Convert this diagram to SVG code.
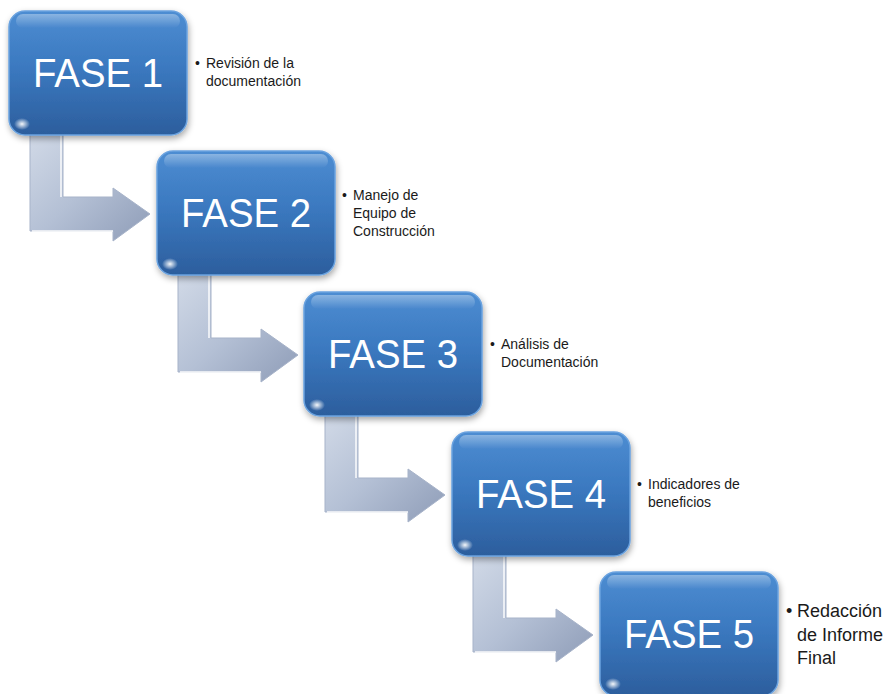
<svg xmlns="http://www.w3.org/2000/svg" width="895" height="694" viewBox="0 0 895 694">
<defs>
  <linearGradient id="boxFill" x1="0" y1="0" x2="0" y2="1">
    <stop offset="0" stop-color="#4d8dd2"/>
    <stop offset="0.45" stop-color="#3b79c0"/>
    <stop offset="1" stop-color="#2c5e9d"/>
  </linearGradient>
  <linearGradient id="gloss" x1="0" y1="0" x2="0" y2="1">
    <stop offset="0" stop-color="#ffffff" stop-opacity="0.35"/>
    <stop offset="1" stop-color="#ffffff" stop-opacity="0"/>
  </linearGradient>
  <linearGradient id="arrowFill" x1="0" y1="0" x2="1" y2="1">
    <stop offset="0" stop-color="#d3dbe8"/>
    <stop offset="0.5" stop-color="#b4c0d5"/>
    <stop offset="1" stop-color="#8e9cb7"/>
  </linearGradient>
  <radialGradient id="glint" cx="0.5" cy="0.5" r="0.5">
    <stop offset="0" stop-color="#ffffff" stop-opacity="0.95"/>
    <stop offset="1" stop-color="#ffffff" stop-opacity="0"/>
  </radialGradient>
  <filter id="shadow" x="-10%" y="-10%" width="125%" height="130%">
    <feDropShadow dx="1" dy="3" stdDeviation="3" flood-color="#000000" flood-opacity="0.35"/>
  </filter>
  <path id="bent" d="M21,-25 H54 V46 H104 V37 L141,63 L104,90 V80 H21 Z"/>
</defs>
<style>
  .box { fill: url(#boxFill); stroke: #6aa2df; stroke-width: 1.5; }
  .gloss { fill: url(#gloss); }
  .label { font-family: "Liberation Sans", Arial, sans-serif; font-size: 41px; fill: #ffffff; text-anchor: middle; }
  .note { font-family: "Liberation Sans", Arial, sans-serif; font-size: 14px; fill: #1a1a1a; }
  .note5 { font-family: "Liberation Sans", Arial, sans-serif; font-size: 18px; fill: #1a1a1a; }
  .arrow { fill: url(#arrowFill); stroke: #a7b3c9; stroke-width: 1; }
  .hl { fill: none; stroke: #ffffff; stroke-opacity: 0.7; stroke-width: 2; }
</style>
<g id="connectors">
  <g transform="translate(9,151)"><use href="#bent" class="arrow"/><path class="hl" d="M23,80 H104"/><path class="hl" d="M52,-20 V46"/></g>
  <g transform="translate(157,292)"><use href="#bent" class="arrow"/><path class="hl" d="M23,80 H104"/><path class="hl" d="M52,-20 V46"/></g>
  <g transform="translate(304,432)"><use href="#bent" class="arrow"/><path class="hl" d="M23,80 H104"/><path class="hl" d="M52,-20 V46"/></g>
  <g transform="translate(452,572)"><use href="#bent" class="arrow"/><path class="hl" d="M23,80 H104"/><path class="hl" d="M52,-20 V46"/></g>
</g>
<g id="fase1">
  <rect class="box" x="9" y="11" width="178" height="124" rx="16" filter="url(#shadow)"/>
  <rect class="gloss" x="16" y="14" width="164" height="14" rx="7"/>
  <ellipse cx="22" cy="124" rx="8" ry="6" fill="url(#glint)"/>
  <text class="label" x="98" y="87" textLength="130" lengthAdjust="spacingAndGlyphs">FASE 1</text>
  <text class="note"><tspan x="195" y="68">•</tspan><tspan x="206" y="68">Revisión de la</tspan><tspan x="206" y="86">documentación</tspan></text>
</g>
<g id="fase2">
  <rect class="box" x="157" y="151" width="178" height="124" rx="16" filter="url(#shadow)"/>
  <rect class="gloss" x="164" y="154" width="164" height="14" rx="7"/>
  <ellipse cx="170" cy="264" rx="8" ry="6" fill="url(#glint)"/>
  <text class="label" x="246" y="227" textLength="130" lengthAdjust="spacingAndGlyphs">FASE 2</text>
  <text class="note"><tspan x="342" y="200">•</tspan><tspan x="353" y="200">Manejo de</tspan><tspan x="353" y="218">Equipo de</tspan><tspan x="353" y="236">Construcción</tspan></text>
</g>
<g id="fase3">
  <rect class="box" x="304" y="292" width="178" height="124" rx="16" filter="url(#shadow)"/>
  <rect class="gloss" x="311" y="295" width="164" height="14" rx="7"/>
  <ellipse cx="317" cy="405" rx="8" ry="6" fill="url(#glint)"/>
  <text class="label" x="393" y="368" textLength="130" lengthAdjust="spacingAndGlyphs">FASE 3</text>
  <text class="note"><tspan x="490" y="349">•</tspan><tspan x="501" y="349">Análisis de</tspan><tspan x="501" y="367">Documentación</tspan></text>
</g>
<g id="fase4">
  <rect class="box" x="452" y="432" width="178" height="124" rx="16" filter="url(#shadow)"/>
  <rect class="gloss" x="459" y="435" width="164" height="14" rx="7"/>
  <ellipse cx="465" cy="545" rx="8" ry="6" fill="url(#glint)"/>
  <text class="label" x="541" y="508" textLength="130" lengthAdjust="spacingAndGlyphs">FASE 4</text>
  <text class="note"><tspan x="637" y="489">•</tspan><tspan x="648" y="489">Indicadores de</tspan><tspan x="648" y="507">beneficios</tspan></text>
</g>
<g id="fase5">
  <rect class="box" x="600" y="572" width="178" height="124" rx="16" filter="url(#shadow)"/>
  <rect class="gloss" x="607" y="575" width="164" height="14" rx="7"/>
  <ellipse cx="613" cy="684" rx="8" ry="6" fill="url(#glint)"/>
  <text class="label" x="689" y="648" textLength="130" lengthAdjust="spacingAndGlyphs">FASE 5</text>
  <text class="note5"><tspan x="786" y="617">•</tspan><tspan x="797" y="617">Redacción</tspan><tspan x="797" y="641">de Informe</tspan><tspan x="797" y="664">Final</tspan></text>
</g>
</svg>
